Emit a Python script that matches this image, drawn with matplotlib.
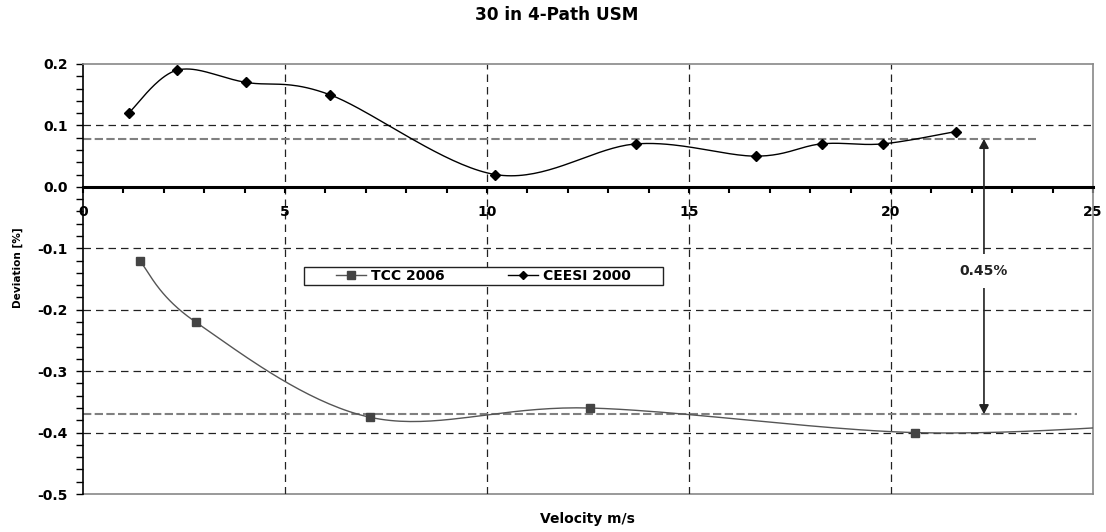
import numpy as np
import matplotlib
matplotlib.use("Agg")
import matplotlib.pyplot as plt
from matplotlib.ticker import MultipleLocator, FormatStrFormatter
from matplotlib.patches import Rectangle
from matplotlib.lines import Line2D

plt.rcParams['font.family'] = ['DejaVu Sans']
plt.rcParams['font.weight'] = 'bold'

# Calibration results
tcc_velocity = [1.40, 2.79, 7.10, 12.55, 20.60, 27.0]
tcc_deviation = [-0.12, -0.22, -0.375, -0.36, -0.40, -0.385]

ceesi_velocity = [1.13, 2.33, 4.04, 6.11, 10.21, 13.70, 16.65, 18.28, 19.80, 21.60]
ceesi_deviation = [0.12, 0.19, 0.17, 0.15, 0.02, 0.07, 0.05, 0.07, 0.07, 0.09]

upper_ref = 0.078
lower_ref = -0.37
spread_label = "0.45%"
arrow_x = 22.3


def smooth(x, y, n=40):
    """Excel-style smoothed line (Catmull-Rom Bezier segments)."""
    p = np.column_stack([x, y]).astype(float)
    ext = np.vstack([p[0], p, p[-1]])
    t = np.linspace(0, 1, n)[:, None]
    out = []
    for i in range(1, len(ext) - 2):
        p0, p1, p2, p3 = ext[i - 1], ext[i], ext[i + 1], ext[i + 2]
        b1 = p1 + (p2 - p0) / 6.0
        b2 = p2 - (p3 - p1) / 6.0
        seg = ((1 - t) ** 3) * p1 + 3 * ((1 - t) ** 2) * t * b1 + 3 * (1 - t) * t ** 2 * b2 + t ** 3 * p2
        out.append(seg if i == 1 else seg[1:])
    s = np.vstack(out)
    return s[:, 0], s[:, 1]


fig = plt.figure(figsize=(11.06, 5.32), dpi=100)
ax = fig.add_axes([0.0750, 0.0714, 0.9133, 0.8083])
ax.set_xlim(0, 25)
ax.set_ylim(-0.5, 0.2)

# grid
for gx in [5, 10, 15, 20]:
    ax.axvline(gx, color='#222222', lw=0.9, ls=(0, (6, 4)), zorder=1)
for gy in [0.1, -0.1, -0.2, -0.3, -0.4]:
    ax.axhline(gy, color='#222222', lw=0.9, ls=(0, (6, 4)), zorder=1)

# reference levels
ax.plot([0, 23.6], [upper_ref, upper_ref], color='#808080', lw=1.5, ls=(0, (4, 1.6)), zorder=2)
ax.plot([0, 24.6], [lower_ref, lower_ref], color='#808080', lw=1.5, ls=(0, (4, 1.6)), zorder=2)

# series
sx, sy = smooth(tcc_velocity, tcc_deviation)
ax.plot(sx, sy, color='#555555', lw=1.0, zorder=3)
ax.plot(tcc_velocity, tcc_deviation, ls='none', marker='s', ms=6, color='#444444', zorder=4)

sx, sy = smooth(ceesi_velocity, ceesi_deviation)
ax.plot(sx, sy, color='black', lw=1.0, zorder=3)
ax.plot(ceesi_velocity, ceesi_deviation, ls='none', marker='D', ms=5, color='black', zorder=4)

# spread arrow
ax.annotate('', xy=(arrow_x, lower_ref), xytext=(arrow_x, upper_ref),
            arrowprops=dict(arrowstyle='<|-|>,head_length=0.45,head_width=0.24', color='#222222',
                            lw=1.2, mutation_scale=12, shrinkA=0, shrinkB=0), zorder=5)
ax.text(arrow_x, -0.137, spread_label, ha='center', va='center', fontsize=10,
        fontweight='bold', color='#222222',
        bbox=dict(facecolor='white', edgecolor='none', pad=7), zorder=6)

# spines
for s in ['top', 'right']:
    ax.spines[s].set_color('#888888')
    ax.spines[s].set_linewidth(1.2)
ax.spines['left'].set_color('black')
ax.spines['left'].set_linewidth(1.2)
ax.spines['bottom'].set_position(('data', 0))
ax.spines['bottom'].set_linewidth(2.2)
ax.spines['bottom'].set_color('black')
ax.plot([0, 1], [0, 0], transform=ax.transAxes, color='#888888', lw=1.2, clip_on=False, zorder=0)

ax.xaxis.set_major_locator(MultipleLocator(5))
ax.xaxis.set_minor_locator(MultipleLocator(1))
ax.yaxis.set_major_locator(MultipleLocator(0.1))
ax.yaxis.set_minor_locator(MultipleLocator(0.02))
ax.yaxis.set_major_formatter(FormatStrFormatter('%.1f'))
ax.tick_params(axis='x', which='both', direction='out', length=4, width=1.5, color='black',
               labelsize=10, pad=9)
ax.tick_params(axis='y', which='both', direction='out', length=5, width=1, color='black',
               labelsize=10, pad=6)
for lab in ax.get_xticklabels() + ax.get_yticklabels():
    lab.set_fontweight('bold')

fig.text(0.5033, 0.971, '30 in 4-Path USM', ha='center', va='center', fontsize=12.2,
         fontweight='bold')
fig.text(0.5314, 0.0245, 'Velocity m/s', ha='center', va='center', fontsize=10, fontweight='bold')
fig.text(0.0158, 0.497, 'Deviation [%]', ha='center', va='center', rotation=90,
         fontsize=7.6, fontweight='bold')

# legend
ax.add_patch(Rectangle((0.219, 0.486), 0.355, 0.042, transform=ax.transAxes,
                       facecolor='white', edgecolor='#222222', lw=1.0, zorder=7))
handles = [Line2D([], [], color='#555555', lw=1.0, marker='s', ms=6, mfc='#444444', mec='#444444'),
           Line2D([], [], color='black', lw=1.0, marker='D', ms=4.5, mfc='black')]
leg = ax.legend(handles, ['TCC 2006', 'CEESI 2000'], ncol=2, loc='center',
                bbox_to_anchor=(0.3965, 0.507), frameon=False,
                handlelength=2.16, handletextpad=0.36, columnspacing=4.5, borderpad=0.1,
                prop={'weight': 'bold', 'size': 10})
leg.set_zorder(8)

fig.savefig('out.png', dpi=100)
